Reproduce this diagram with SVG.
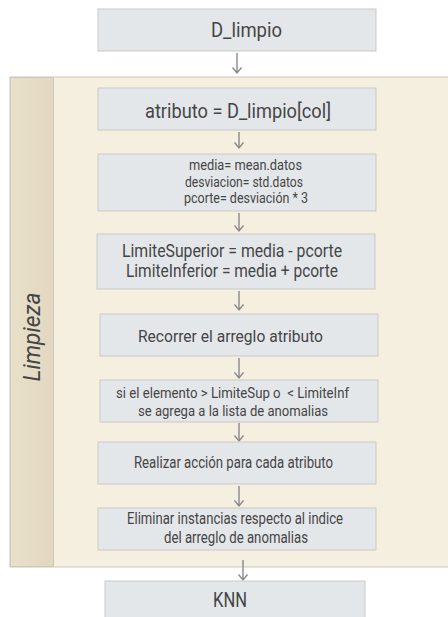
<svg xmlns="http://www.w3.org/2000/svg" width="448" height="617" viewBox="0 0 448 617">
<defs>
<linearGradient id="strip" x1="0" y1="0" x2="1" y2="0">
<stop offset="0" stop-color="#e9e0ca"/>
<stop offset="1" stop-color="#e2d8c0"/>
</linearGradient>
</defs>
<style>
.box{fill:#e4e7ea;stroke:#c9c9c7;stroke-width:1}
.t{font-family:Roboto,"Liberation Sans",sans-serif;fill:#454545;text-anchor:middle}
.c{fill:none;stroke:#8a8a8a;stroke-width:1.4}
</style>
<rect width="448" height="617" fill="#ffffff"/>
<g id="container">
<rect x="10" y="77" width="445" height="490" fill="#f5efe0" stroke="#cdc8bd" stroke-width="1"/>
<rect x="10.5" y="77.5" width="43" height="489" fill="url(#strip)" stroke="#cdc8bd" stroke-width="1"/>
<text class="t" transform="translate(40,337) rotate(-90)" font-size="24" font-style="italic" textLength="89" lengthAdjust="spacingAndGlyphs">Limpieza</text>
</g>
<g id="connectors">
<path class="c" d="M237 53V73M232.5 67.5L237 73L241.5 67.5"/>
<path class="c" d="M239 132V148M234.5 142.5L239 148L243.5 142.5"/>
<path class="c" d="M239 213V231M234.5 225.5L239 231L243.5 225.5"/>
<path class="c" d="M239 291V310M234.5 304.5L239 310L243.5 304.5"/>
<path class="c" d="M239 358V378M234.5 372.5L239 378L243.5 372.5"/>
<path class="c" d="M239 423V441M234.5 435.5L239 441L243.5 435.5"/>
<path class="c" d="M239 486V506M234.5 500.5L239 506L243.5 500.5"/>
<path class="c" d="M243 560V580M238.5 574.5L243 580L247.5 574.5"/>
</g>
<g id="n_dlimpio">
<rect class="box" x="98" y="9" width="278" height="42"/>
<text class="t" x="246.5" y="37" font-size="20" textLength="71" lengthAdjust="spacingAndGlyphs">D_limpio</text>
</g>
<g id="n_atributo">
<rect class="box" x="98" y="88" width="278" height="42"/>
<text class="t" x="238" y="118" font-size="21" textLength="186" lengthAdjust="spacingAndGlyphs">atributo = D_limpio[col]</text>
</g>
<g id="n_stats">
<rect class="box" x="98" y="154" width="278" height="57"/>
<text class="t" x="245.5" y="170" font-size="14" textLength="113" lengthAdjust="spacingAndGlyphs">media= mean.datos</text>
<text class="t" x="244" y="187" font-size="14" textLength="118" lengthAdjust="spacingAndGlyphs">desviacion= std.datos</text>
<text class="t" x="246" y="203" font-size="14" textLength="124" lengthAdjust="spacingAndGlyphs">pcorte= desviación * 3</text>
</g>
<g id="n_limites">
<rect class="box" x="97" y="234" width="278" height="55"/>
<text class="t" x="232" y="257" font-size="18" textLength="220" lengthAdjust="spacingAndGlyphs">LimiteSuperior = media - pcorte</text>
<text class="t" x="232" y="277" font-size="18" textLength="212" lengthAdjust="spacingAndGlyphs">LimiteInferior = media + pcorte</text>
</g>
<g id="n_recorrer">
<rect class="box" x="100" y="314" width="278" height="42"/>
<text class="t" x="230.5" y="342" font-size="17" textLength="185" lengthAdjust="spacingAndGlyphs">Recorrer el arreglo atributo</text>
</g>
<g id="n_condicion">
<rect class="box" x="100" y="380" width="278" height="42"/>
<text class="t" x="232.5" y="398" font-size="15" textLength="233" lengthAdjust="spacingAndGlyphs" xml:space="preserve" style="white-space:pre">si el elemento &gt; LimiteSup o  &lt; LimiteInf</text>
<text class="t" x="233" y="416" font-size="15" textLength="190" lengthAdjust="spacingAndGlyphs">se agrega a la lista de anomalias</text>
</g>
<g id="n_realizar">
<rect class="box" x="98" y="442" width="278" height="42"/>
<text class="t" x="233.5" y="468" font-size="17" textLength="199" lengthAdjust="spacingAndGlyphs">Realizar acción para cada atributo</text>
</g>
<g id="n_eliminar">
<rect class="box" x="98" y="508" width="278" height="42"/>
<text class="t" x="235" y="524" font-size="17" textLength="216" lengthAdjust="spacingAndGlyphs">Eliminar instancias respecto al indice</text>
<text class="t" x="236" y="543" font-size="17" textLength="144" lengthAdjust="spacingAndGlyphs">del arreglo de anomalias</text>
</g>
<g id="n_knn">
<rect class="box" x="105" y="581" width="260" height="45"/>
<text class="t" x="230" y="607" font-size="21" textLength="34" lengthAdjust="spacingAndGlyphs">KNN</text>
</g>
</svg>
